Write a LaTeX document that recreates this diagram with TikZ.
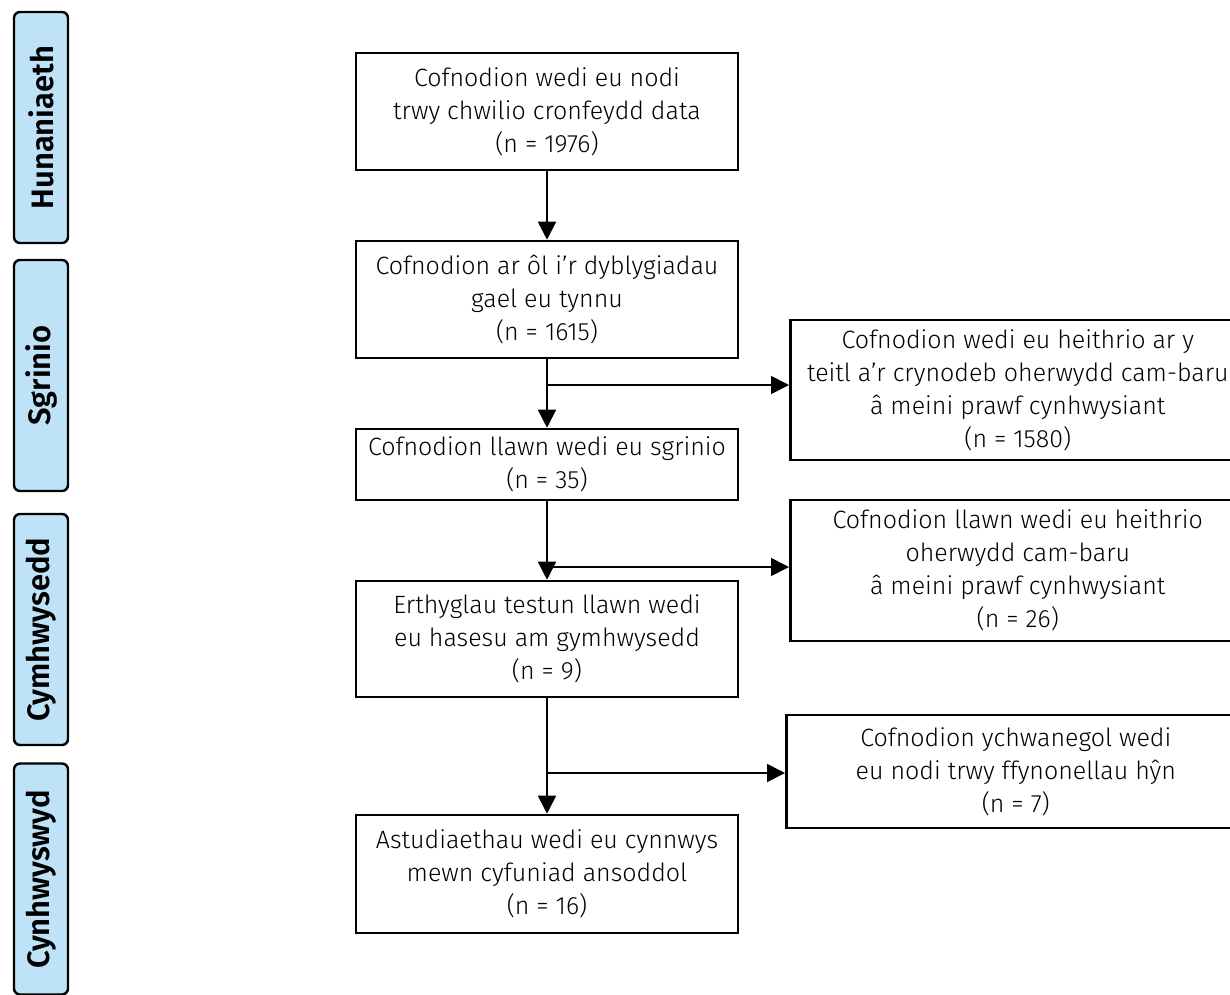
\documentclass[tikz,border=0pt]{standalone}
\usepackage{fontspec}
\setmainfont{Fira Sans}[UprightFont={* Light},BoldFont={* SemiBold}]
\usetikzlibrary{arrows.meta}
\definecolor{tabblue}{HTML}{BEE3F8}
\tikzset{
  flowbox/.style={draw,line width=2.6pt,align=center,minimum width=382pt,inner sep=0pt,
    font=\fontsize{25}{33}\selectfont},
  sidebox/.style={flowbox,anchor=west,minimum width=455pt},
  stagetab/.style={draw,fill=tabblue,line width=2.4pt,rounded corners=6pt,rotate=90,
    minimum width=231pt,minimum height=54pt,inner sep=0pt,font=\fontsize{31}{36}\bfseries},
  flow/.style={->,>={Triangle[length=18pt,width=18pt]},line width=1.8pt}
}
\begin{document}
\begin{tikzpicture}[x=1pt,y=-1pt]
  \useasboundingbox (0,0) rectangle (1230,994);
  % stages
  \node[stagetab] (identify) at (41,127.5) {Hunaniaeth};
  \node[stagetab] (screen) at (41,375.5) {Sgrinio};
  \node[stagetab] (elig) at (41,629.5) {Cymhwysedd};
  \node[stagetab] (incl) at (41,879) {Cynhwyswyd};
  % main column
  \node[flowbox,minimum height=117pt] (found) at (547,111.5) {Cofnodion wedi eu nodi\\trwy chwilio cronfeydd data\\(n = 1976)};
  \node[flowbox,minimum height=117pt] (dedup) at (547,299.5) {Cofnodion ar ôl i’r dyblygiadau\\gael eu tynnu\\(n = 1615)};
  \node[flowbox,minimum height=71pt] (full) at (547,464.5) {Cofnodion llawn wedi eu sgrinio\\(n = 35)};
  \node[flowbox,minimum height=116pt] (assess) at (547,639) {Erthyglau testun llawn wedi\\eu hasesu am gymhwysedd\\(n = 9)};
  \node[flowbox,minimum height=118pt] (synth) at (547,874) {Astudiaethau wedi eu cynnwys\\mewn cyfuniad ansoddol\\(n = 16)};
  % side column
  \node[sidebox,minimum height=140pt] (exclA) at (789,390) {Cofnodion wedi eu heithrio ar y\\teitl a’r crynodeb oherwydd cam-baru\\â meini prawf cynhwysiant\\(n = 1580)};
  \node[sidebox,minimum height=141pt] (exclB) at (789,570.5) {Cofnodion llawn wedi eu heithrio\\oherwydd cam-baru\\â meini prawf cynhwysiant\\(n = 26)};
  \node[sidebox,minimum height=113pt,minimum width=459pt] (extra) at (785,771.5) {Cofnodion ychwanegol wedi\\eu nodi trwy ffynonellau hŷn\\(n = 7)};
  % arrows
  \draw[flow] (found) -- (dedup);
  \draw[flow] (dedup) -- (full);
  \draw[flow] (full) -- (assess);
  \draw[flow] (assess) -- (synth);
  \coordinate (j1) at (547,385);
  \coordinate (j2) at (547,567);
  \coordinate (j3) at (547,773);
  \draw[flow] (j1) -- (j1 -| exclA.west);
  \draw[flow] (j2) -- (j2 -| exclB.west);
  \draw[flow] (j3) -- (j3 -| extra.west);
\end{tikzpicture}
\end{document}
